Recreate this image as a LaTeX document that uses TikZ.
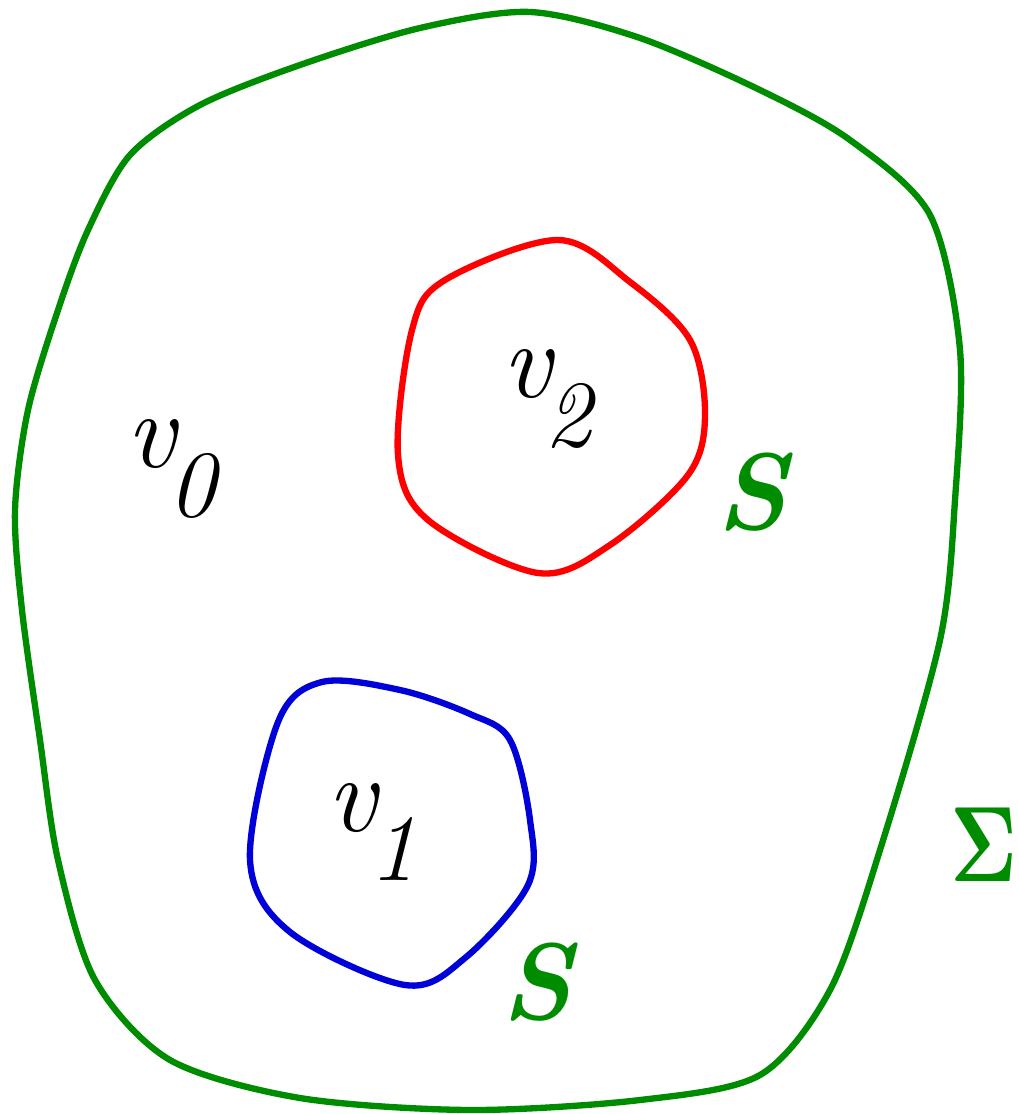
\documentclass[tikz,border=0pt]{standalone}
\begin{document}
\begin{tikzpicture}[x=0.02cm,y=-0.02cm,
  curve/.style={line width=3.6pt,line join=round},
  lab/.style={inner sep=0pt,font=\fontsize{62}{64}\selectfont\itshape},
  glab/.style={inner sep=0pt,text=gr,font=\fontsize{62}{64}\selectfont\bfseries\itshape}]
\useasboundingbox (0,0) rectangle (1018,1114);
\definecolor{gr}{RGB}{0,140,0}
\newcommand\vsub[1]{v\kern-0.06em\raisebox{-1.05ex}{\fontsize{54}{56}\selectfont #1}}
\draw[curve,gr] plot[smooth cycle,tension=0.5] coordinates {
 (530,12) (420,28) (300,65) (200,105) (130,155) (88,230) (58,310) (28,410)
 (15,510) (22,610) (40,740) (58,860) (95,980) (170,1060) (300,1098)
 (470,1110) (640,1100) (760,1075) (830,990) (880,850) (940,640)
 (955,500) (960,350) (930,215) (850,140) (760,90) (640,38)};
\draw[curve,red] plot[smooth cycle,tension=0.55] coordinates {
 (558,240) (445,280) (412,330) (398,455) (428,520) (538,573)
 (610,545) (688,475) (705,415) (690,340) (630,282)};
\draw[curve,blue!85!black] plot[smooth cycle,tension=0.55] coordinates {
 (322,682) (278,722) (250,860) (290,932) (405,985) (465,958)
 (528,885) (530,820) (510,740) (470,714) (400,690)};
\node[lab] (v0) at (171,469) {\vsub{0}};
\node[lab] (v2) at (547,399) {\vsub{2}};
\node[lab] (v1) at (372,832) {\vsub{1}};
\node[glab] (s2) at (752,492) {S};
\node[glab] (s1) at (537,982) {S};
\node[inner sep=0pt,text=gr] (sig) at (984,845) {\scalebox{4.6}[6.1]{$\mathbf{\Sigma}$}};
\end{tikzpicture}
\end{document}
